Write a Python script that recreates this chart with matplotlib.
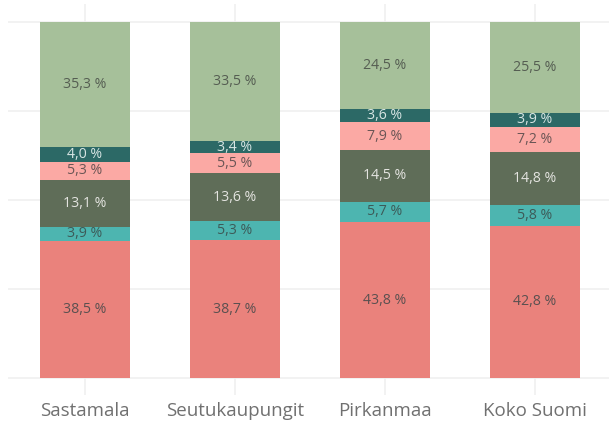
import numpy as np
import matplotlib
matplotlib.use("Agg")
from matplotlib import pyplot as plt

plt.rcParams['font.family'] = ['Open Sans', 'DejaVu Sans']

# categories and segment shares (bottom -> top)
categories = ["Sastamala", "Seutukaupungit", "Pirkanmaa", "Koko Suomi"]
seg1 = [38.5, 38.7, 43.8, 42.8]
seg2 = [3.9, 5.3, 5.7, 5.8]
seg3 = [13.1, 13.6, 14.5, 14.8]
seg4 = [5.3, 5.5, 7.9, 7.2]
seg5 = [4.0, 3.4, 3.6, 3.9]
seg6 = [35.3, 33.5, 24.5, 25.5]

series = [seg1, seg2, seg3, seg4, seg5, seg6]
colors = ["#EA827C", "#4DB5B0", "#5F6D58", "#FBA9A4", "#2C6966", "#A6C09A"]
textColors = ["#5a5050", "#3d5a58", "#e4e4e0", "#6a5555", "#d8e6e4", "#555d52"]

fig = plt.figure(figsize=(6.09, 4.21), dpi=100)
# axes spans the gridline area: x 8..609 px, y 4..395 px
ax = fig.add_axes([8/609, (421-395)/421, 601/609, 391/421])

x = np.arange(len(categories))
pxPerPct = (378 - 22) / 100.0
ax.set_ylim(-(395 - 378) / pxPerPct, 100 + (22 - 4) / pxPerPct)
ax.set_xlim(-77/150, (609 - 85)/150)

bottom = np.zeros(len(categories))
for vals, col, tcol in zip(series, colors, textColors):
    vals = np.array(vals)
    ax.bar(x, vals, width=0.6, bottom=bottom, color=col, zorder=2)
    for xi, b, v in zip(x, bottom, vals):
        label = ("%.1f %%" % v).replace(".", ",")
        ax.text(xi, b + v/2, label, ha='center', va='center',
                fontsize=10.2, color=tcol, zorder=3)
    bottom += vals

# faint gridlines
for yv in [0, 25, 50, 75, 100]:
    ax.axhline(yv, color="#f0f0f0", lw=1.2, zorder=1)
for xi in x:
    ax.axvline(xi, color="#f0f0f0", lw=1.2, zorder=1)

ax.set_xticks([])
ax.set_yticks([])
for s in ax.spines.values():
    s.set_visible(False)

for xi, name in zip(x, categories):
    fig.text((8 + (xi + 77/150) * 150) / 609, 1 - 411/421, name,
             ha='center', va='center', fontsize=13.5, color="#707070")

fig.savefig("out.png", dpi=100)
